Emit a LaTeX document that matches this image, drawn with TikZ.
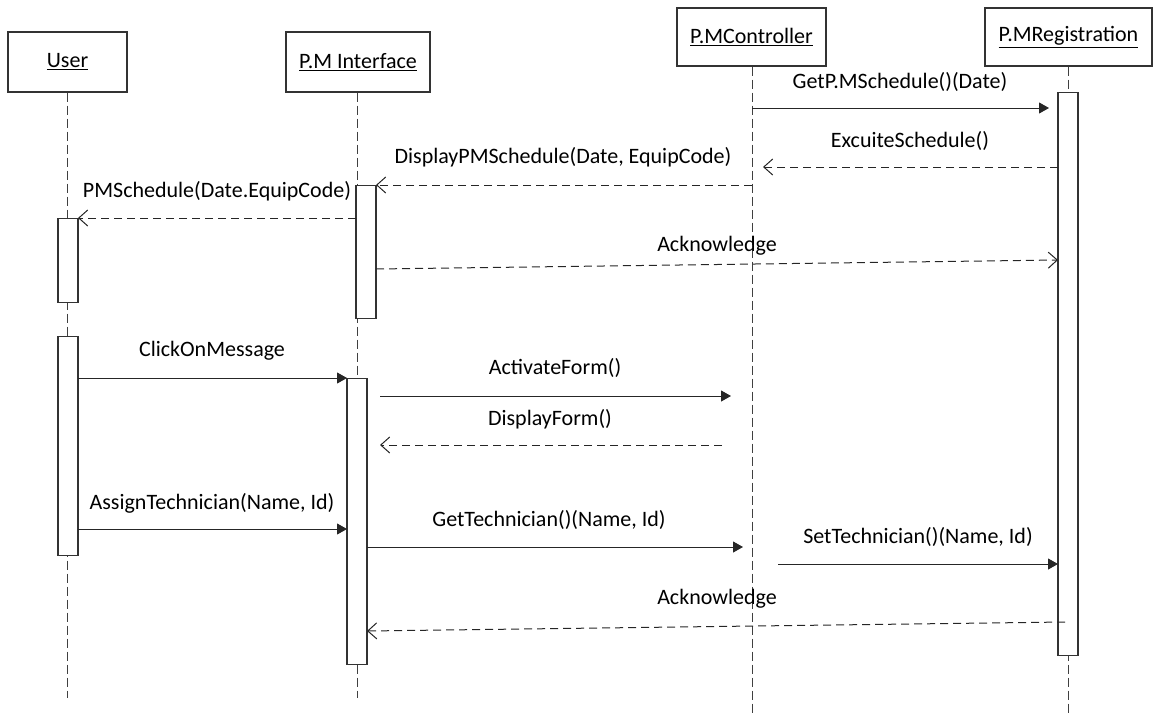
\documentclass[tikz,border=0pt]{standalone}
\usepackage{fontspec}
\setmainfont{Carlito}
\usetikzlibrary{arrows.meta}
\begin{document}
\begin{tikzpicture}[x=1pt,y=-1pt,
  font=\fontsize{22}{26}\selectfont,
  party/.style={draw=black!80, line width=1.2pt, fill=white, inner sep=0pt},
  lifeline/.style={draw=black!75, line width=1pt, dash pattern=on 9pt off 4pt},
  act/.style={draw=black!80, line width=1.1pt, fill=white, minimum width=20pt, inner sep=0pt, anchor=north},
  call/.style={draw=black!85, line width=1pt, -{Triangle[length=10pt,width=11pt]}},
  reply/.style={draw=black!85, line width=1pt, dash pattern=on 8pt off 5pt, -{Straight Barb[length=9pt,width=16pt]}},
  lbl/.style={inner sep=0pt, text=black}
]
\useasboundingbox (0,0) rectangle (1153,715);

% participants
\node[party, minimum width=119pt, minimum height=60pt] (user) at (67.5,62) {\underline{User}};
\node[party, minimum width=144pt, minimum height=60pt] (ui) at (358,62) {\underline{P.M Interface}};
\node[party, minimum width=149pt, minimum height=58pt] (ctl) at (751.5,37) {\underline{P.MController}};
\node[party, minimum width=167pt, minimum height=58pt] (reg) at (1068.5,37) {\underline{P.MRegistration}};

% lifeline ends
\coordinate (userEnd) at (67,698);
\coordinate (uiEnd) at (357,698);
\coordinate (ctlEnd) at (752,715);
\coordinate (regEnd) at (1068,715);
\draw[lifeline] (user.south -| userEnd) -- (userEnd);
\draw[lifeline] (ui.south -| uiEnd) -- (uiEnd);
\draw[lifeline] (ctl.south -| ctlEnd) -- (ctlEnd);
\draw[lifeline] (reg.south -| regEnd) -- (regEnd);

% activation bars
\node[act, minimum height=84pt] (uA1) at (68,218) {};
\node[act, minimum height=219pt] (uA2) at (68,336) {};
\node[act, minimum height=133pt] (iA1) at (366,185) {};
\node[act, minimum height=286pt] (iA2) at (357,378) {};
\node[act, minimum height=563pt] (rA) at (1068,92) {};

% message end points
\coordinate (m1s) at (752,108);  \coordinate (m1e) at (1049,108);
\coordinate (m2s) at (1058,167); \coordinate (m2e) at (763,167);
\coordinate (m3s) at (752,185);  \coordinate (m3e) at (376,185);
\coordinate (m4s) at (356,218);  \coordinate (m4e) at (78,218);
\coordinate (m5s) at (376,269);  \coordinate (m5e) at (1058,260);
\coordinate (m6s) at (78,378);   \coordinate (m6e) at (347,378);
\coordinate (m7s) at (380,396);  \coordinate (m7e) at (731,396);
\coordinate (m8s) at (722,445);  \coordinate (m8e) at (380,445);
\coordinate (m9s) at (78,529);   \coordinate (m9e) at (347,529);
\coordinate (m10s) at (367,547); \coordinate (m10e) at (743,547);
\coordinate (m11s) at (778,564); \coordinate (m11e) at (1058,564);
\coordinate (m12s) at (1065,622); \coordinate (m12e) at (367,631);

% messages
\draw[call]  (m1s) -- (m1e);
\draw[reply] (m2s) -- (m2e);
\draw[reply] (m3s) -- (m3e);
\draw[reply] (m4s) -- (m4e);
\draw[reply] (m5s) -- (m5e);
\draw[call]  (m6s) -- (m6e);
\draw[call]  (m7s) -- (m7e);
\draw[reply] (m8s) -- (m8e);
\draw[call]  (m9s) -- (m9e);
\draw[call]  (m10s) -- (m10e);
\draw[call]  (m11s) -- (m11e);
\draw[reply] (m12s) -- (m12e);

% message labels
\node[lbl] (l1) at (900,82) {GetP.MSchedule()(Date)};
\node[lbl] (l2) at (910,141) {ExcuiteSchedule()};
\node[lbl] (l3) at (563,157) {DisplayPMSchedule(Date, EquipCode)};
\node[lbl] (l4) at (217,191) {PMSchedule(Date.EquipCode)};
\node[lbl] (l5) at (717,246) {Acknowledge};
\node[lbl] (l6) at (212,351) {ClickOnMessage};
\node[lbl] (l7) at (555,368) {ActivateForm()};
\node[lbl] (l8) at (550,419) {DisplayForm()};
\node[lbl] (l9) at (212,503) {AssignTechnician(Name, Id)};
\node[lbl] (l10) at (549,520) {GetTechnician()(Name, Id)};
\node[lbl] (l11) at (918,537) {SetTechnician()(Name, Id)};
\node[lbl] (l12) at (717,599) {Acknowledge};
\end{tikzpicture}
\end{document}
